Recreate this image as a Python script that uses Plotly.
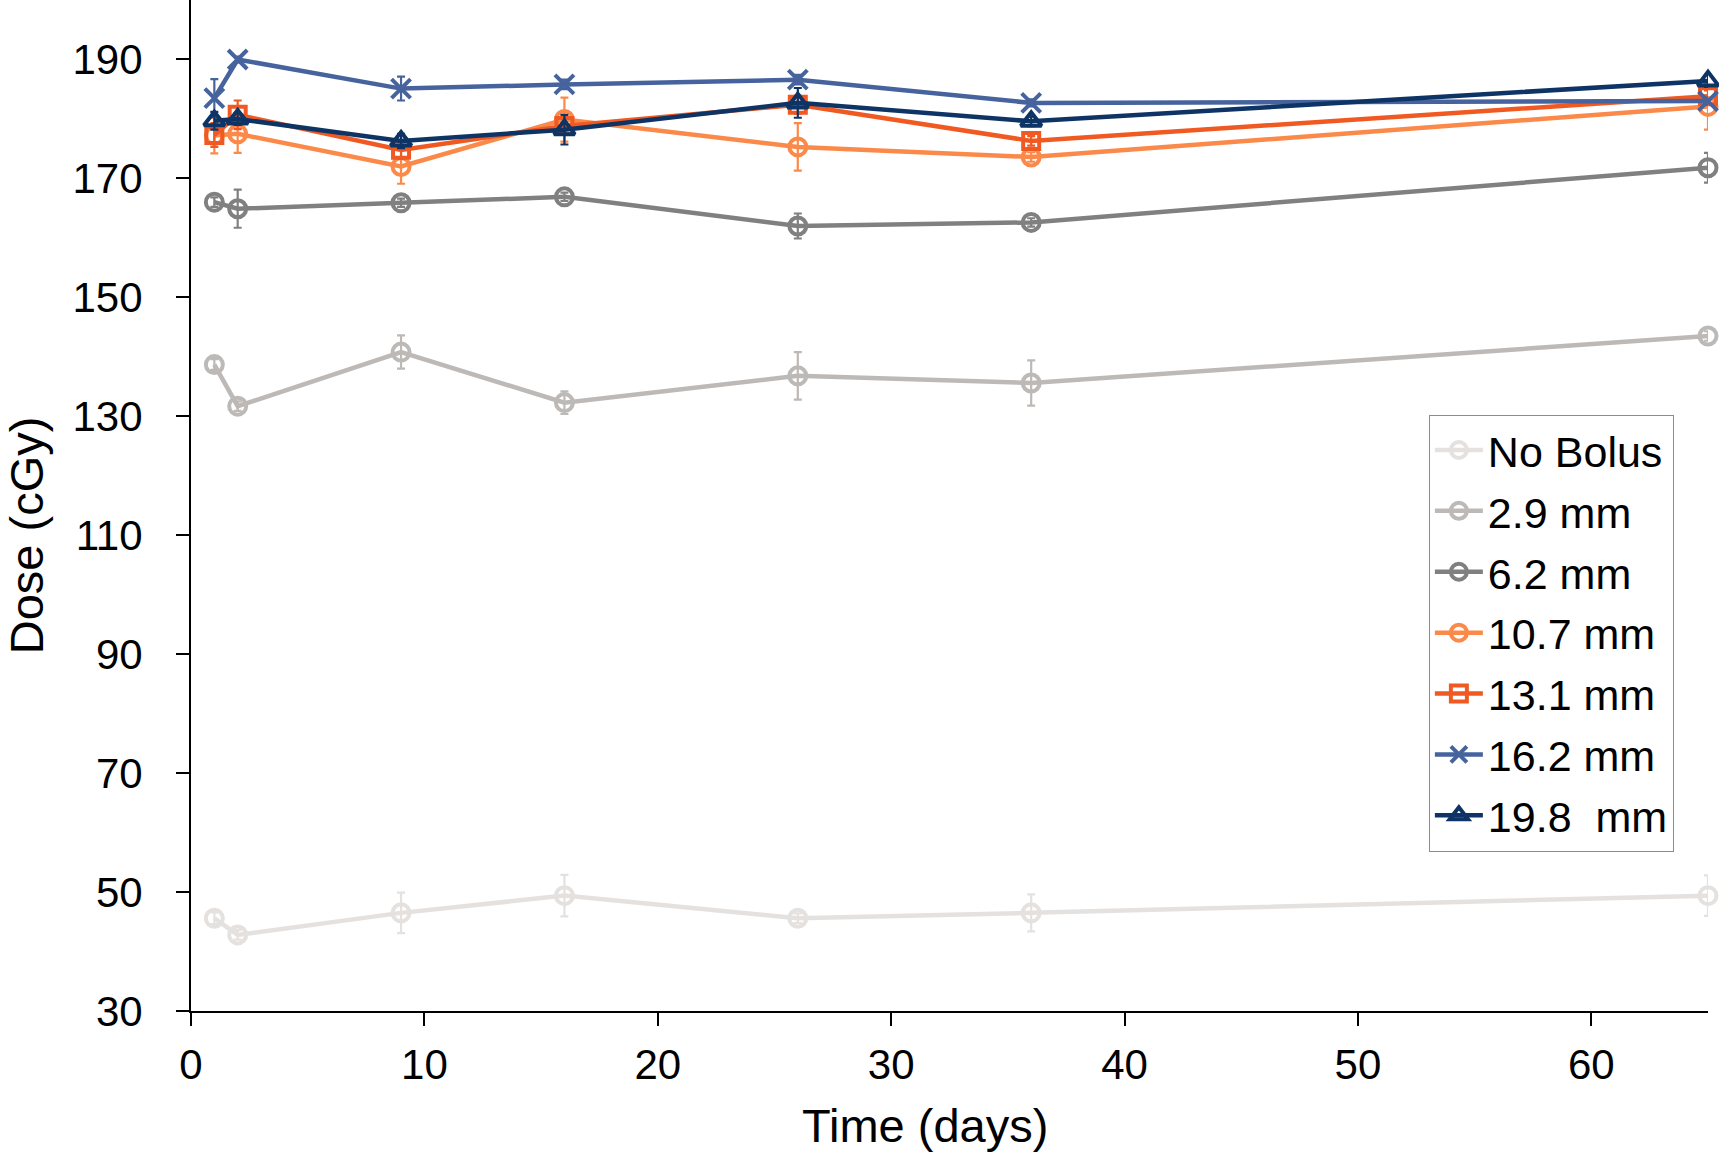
import plotly.graph_objects as go

days = [1, 2, 9, 16, 26, 36, 65]

names = ["No Bolus", "2.9 mm", "6.2 mm", "10.7 mm", "13.1 mm", "16.2 mm", "19.8  mm"]

no_bolus = [45.6, 42.8, 46.5, 49.4, 45.6, 46.5, 49.4]
no_bolus_err = [1.0, 0.8, 3.4, 3.5, 0.8, 3.1, 3.4]

mm_2_9 = [138.7, 131.7, 140.8, 132.3, 136.8, 135.6, 143.5]
mm_2_9_err = [0.9, 0.8, 2.8, 1.9, 4.0, 3.8, 0.8]

mm_6_2 = [166.0, 164.9, 165.9, 166.9, 162.0, 162.6, 171.8]
mm_6_2_err = [0.8, 3.2, 0.7, 0.7, 2.1, 0.7, 2.5]

mm_10_7 = [177.2, 177.5, 172.0, 179.9, 175.3, 173.6, 182.1]
mm_10_7_err = [3.0, 3.2, 2.9, 3.7, 4.0, 0.8, 3.9]

mm_13_1 = [177.3, 180.7, 174.8, 178.8, 182.4, 176.3, 183.8]
mm_13_1_err = [2.0, 2.4, 1.5, 1.5, 1.5, 0.8, 1.0]

mm_16_2 = [183.5, 190.0, 185.1, 185.8, 186.6, 182.7, 183.0]
mm_16_2_err = [3.2, 0.5, 2.0, 0.8, 0.8, 0.6, 0.6]

mm_19_8 = [179.7, 180.0, 176.3, 178.2, 182.7, 179.6, 186.4]
mm_19_8_err = [1.5, 1.0, 1.2, 2.5, 2.5, 0.8, 1.0]

values = [no_bolus, mm_2_9, mm_6_2, mm_10_7, mm_13_1, mm_16_2, mm_19_8]
errors = [no_bolus_err, mm_2_9_err, mm_6_2_err, mm_10_7_err, mm_13_1_err, mm_16_2_err, mm_19_8_err]

colors = ["#E5E1DE", "#BDB9B6", "#808080", "#FB8A4A", "#F05A22", "#46639E", "#0E3466"]
symbols = ["circle-open", "circle-open", "circle-open", "circle-open", "square-open", "x-thin-open", "triangle-up-open"]
sizes = [17, 17, 17, 17, 16, 19, 18]

x_ticks = [0, 10, 20, 30, 40, 50, 60]
y_ticks = [30, 50, 70, 90, 110, 130, 150, 170, 190]

FONT = "Liberation Sans, Arial, Helvetica, sans-serif"

fig = go.Figure()
for i, name in enumerate(names):
    fig.add_trace(go.Scatter(
        x=days, y=values[i], name=name, mode="lines+markers",
        legendgroup=name,
        line=dict(color=colors[i], width=4.5),
        marker=dict(symbol=symbols[i], size=sizes[i], color=colors[i],
                    line=dict(color=colors[i], width=4)),
        error_y=dict(type="data", array=errors[i], visible=True,
                     color=colors[i], thickness=2.2, width=4),
        cliponaxis=False,
    ))

fig.update_layout(
    width=1719, height=1153,
    margin=dict(l=191, r=11, t=0, b=142),
    paper_bgcolor="white", plot_bgcolor="white",
    font=dict(family=FONT, size=42, color="black"),
    showlegend=True,
    legend=dict(
        x=0.816, y=0.590, xanchor="left", yanchor="top",
        bgcolor="white", bordercolor="#8c8c8c", borderwidth=1,
        font=dict(family=FONT, size=43, color="black"),
        tracegroupgap=2,
        itemwidth=48,
    ),
    xaxis=dict(
        range=[0, 65], tickvals=x_ticks, ticktext=[str(v) for v in x_ticks],
        showgrid=False, zeroline=False,
        showline=True, linecolor="black", linewidth=2,
        ticks="outside", ticklen=13, tickwidth=2, tickcolor="black",
        tickfont=dict(family=FONT, size=42, color="black"),
        ticklabelstandoff=3,
    ),
    yaxis=dict(
        range=[30, 200], tickvals=y_ticks, ticktext=[str(v) for v in y_ticks],
        showgrid=False, zeroline=False,
        showline=True, linecolor="black", linewidth=2,
        ticks="outside", ticklen=13, tickwidth=2, tickcolor="black",
        tickfont=dict(family=FONT, size=42, color="black"),
        ticklabelstandoff=25,
    ),
    annotations=[
        dict(text="Time (days)", xref="paper", yref="paper", x=0.484, y=-0.1128,
             xanchor="center", yanchor="middle", showarrow=False,
             font=dict(family=FONT, size=47, color="black")),
        dict(text="Dose (cGy)", xref="paper", yref="paper", x=-0.1085, y=0.471,
             xanchor="center", yanchor="middle", showarrow=False, textangle=-90,
             font=dict(family=FONT, size=47, color="black")),
    ],
)

fig.write_html("out.html", config={"displayModeBar": False},
               post_script="document.body.style.margin='0px';document.body.style.padding='0px';")
